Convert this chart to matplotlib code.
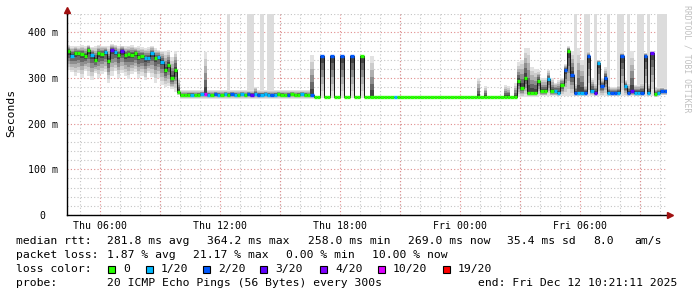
import matplotlib
matplotlib.use("Agg")
import matplotlib.pyplot as plt
import matplotlib.dates as mdates
from matplotlib.ticker import MultipleLocator, FuncFormatter
from matplotlib.patches import Rectangle
from datetime import datetime, timedelta
import numpy as np

plt.rcParams['font.family'] = ['DejaVu Sans Mono']

# ---------------- data (10-minute steps, 30 hours) ----------------
start = datetime(2025, 12, 11, 4, 22)
step_minutes = 10

# median rtt in ms
med = [358, 349, 354, 355, 352, 348, 361, 350, 339, 354, 352, 357, 338, 361, 357, 350, 359, 350, 352, 350,
       354, 346, 348, 343, 343, 354, 343, 346, 336, 318, 329, 300, 318, 270,
       262, 262, 263, 263, 262, 263, 264, 265, 263, 262, 264, 263, 262, 264, 263, 264, 263, 262, 264, 262,
       264, 263, 264, 263, 263, 264, 263, 262, 263, 264, 263, 262, 263, 264, 262, 263, 264, 263, 262, 262,
       258, 258, 347, 258, 258, 347, 258, 258, 347, 258, 258, 347, 258, 258, 347, 258, 258, 258, 258, 258,
       258, 258, 258, 258, 258, 258, 258, 258, 258, 258, 258, 258, 258, 258, 258, 258, 258, 258, 258, 258,
       258, 258, 258, 258, 258, 258, 258, 258, 258, 258, 258, 258, 258, 258, 258, 258, 258, 258, 258, 258,
       258,
       293, 278, 300, 268, 268, 268, 293, 271, 271, 297, 271, 271, 268, 285, 318,
       360, 307, 268, 268, 268, 268, 348, 272, 268, 333, 282, 300, 268, 268, 268, 268, 348, 282, 268, 271,
       268, 268, 268, 349, 268, 355, 264, 268, 271, 271]

# lost pings out of 20
loss = [0, 1, 0, 0, 0, 0, 0, 1, 0, 0, 0, 1, 0, 3, 1, 0, 3, 0, 0, 0,
        0, 0, 0, 1, 1, 1, 0, 1, 1, 0, 0, 0, 0, 0,
        0, 0, 0, 1, 0, 0, 1, 10, 1, 0, 2, 1, 0, 1, 0, 2, 1, 0, 1, 0,
        2, 3, 1, 2, 1, 1, 1, 2, 1, 0, 0, 0, 2, 0, 0, 0, 1, 0, 0, 2,
        0, 0, 2, 0, 0, 2, 0, 0, 2, 0, 0, 2, 0, 0, 0, 0, 0, 0, 0, 0,
        0, 0, 0, 0, 1, 0, 0, 0, 0, 0, 0, 0, 0, 0, 0, 0, 0, 0, 0, 0,
        0, 0, 0, 0, 0, 0, 0, 0, 0, 0, 0, 0, 0, 0, 0, 0, 0, 0, 0, 0,
        0,
        0, 0, 0, 0, 0, 0, 0, 0, 0, 1, 0, 1, 1, 0, 2,
        0, 2, 2, 1, 1, 2, 2, 1, 3, 1, 2, 2, 1, 2, 2, 1, 2, 1, 2, 3,
        1, 1, 2, 2, 1, 3, 0, 1, 2, 2]

# smoke: lowest and highest ping of each step
lo = [318, 312, 305, 310, 300, 315, 305, 295, 310, 300, 308, 312, 290, 305, 315, 300, 310, 305, 298, 308,
      312, 300, 305, 295, 310, 302, 290, 300, 285, 280, 282, 275, 270, 262,
      255, 255, 255, 255, 255, 255, 255, 255, 255, 255, 255, 255, 255, 255, 255, 255, 255, 255, 255, 255,
      255, 255, 255, 255, 255, 255, 255, 255, 255, 255, 255, 255, 255, 255, 255, 255, 255, 255, 255, 255,
      257, 257, 257, 257, 257, 257, 257, 257, 257, 257, 257, 257, 257, 257, 257, 257, 257, 257, 257, 257,
      257, 257, 257, 257, 257, 257, 257, 257, 257, 257, 257, 257, 257, 257, 257, 257, 257, 257, 257, 257,
      257, 257, 257, 257, 257, 257, 257, 257, 257, 257, 257, 257, 257, 257, 257, 257, 257, 257, 257, 257,
      257,
      258, 258, 258, 259, 259, 259, 260, 260, 260, 260, 260, 260, 260, 260, 260,
      260, 260, 260, 260, 260, 260, 260, 260, 260, 260, 260, 260, 260, 260, 260, 260, 260, 260, 260, 260,
      260, 260, 260, 260, 260, 260, 258, 260, 262, 262]

hi = [372, 370, 371, 369, 372, 370, 373, 368, 370, 372, 371, 370, 369, 374, 372, 370, 371, 369, 370, 372,
      368, 370, 367, 366, 368, 370, 365, 362, 360, 358, 362, 345, 360, 300,
      273, 273, 273, 273, 273, 273, 273, 357, 273, 273, 273, 273, 273, 273, 273, 273, 273, 273, 273, 273,
      273, 273, 281, 273, 273, 273, 273, 273, 273, 273, 273, 273, 273, 273, 273, 273, 273, 273, 273, 350,
      260, 260, 350, 260, 260, 350, 260, 260, 350, 260, 260, 350, 260, 260, 350, 260, 260, 347, 260, 260,
      260, 260, 260, 260, 260, 260, 260, 260, 260, 260, 260, 260, 260, 260, 260, 260, 260, 260, 260, 260,
      260, 260, 260, 260, 260, 260, 260, 260, 260, 300, 260, 283, 260, 260, 260, 260, 260, 285, 282, 260,
      288,
      334, 340, 366, 366, 325, 320, 318, 300, 300, 318, 300, 290, 295, 300, 330,
      370, 360, 290, 366, 340, 285, 358, 300, 290, 340, 300, 323, 285, 280, 280, 285, 355, 295, 290, 358,
      285, 285, 290, 355, 290, 358, 280, 280, 280, 278]

# steps where some pings went beyond the top of the graph
top_steps = [48, 54, 55, 58, 60, 61, 152, 155, 156, 158, 162, 165, 166, 168, 171, 172, 174, 177, 178, 179]

loss_levels = [0, 1, 2, 3, 4, 10, 19]
loss_labels = ["0", "1/20", "2/20", "3/20", "4/20", "10/20", "19/20"]
loss_colors = ["#26ff00", "#00b8ff", "#0059ff", "#5e00ff", "#7e00ff", "#dd00ff", "#ff0000"]

stats_rtt = ["281.8 ms avg", "364.2 ms max", "258.0 ms min", "269.0 ms now", "35.4 ms sd", "8.0", "am/s"]
stats_loss = ["1.87 % avg", "21.17 % max", "0.00 % min", "10.00 % now"]
probe_text = "20 ICMP Echo Pings (56 Bytes) every 300s"
end_text = "end: Fri Dec 12 10:21:11 2025"

YMAX = 440

# ---------------- figure ----------------
W, H = 697, 297
fig = plt.figure(figsize=(W / 100, H / 100), dpi=100)
fig.patch.set_facecolor("white")
ax = fig.add_axes([67 / W, 1 - 215 / H, 600 / W, (215 - 14) / H])
ax.set_facecolor("white")

n = len(med)
edges = [start + timedelta(minutes=step_minutes * i) for i in range(n + 1)]
xe = mdates.date2num(edges)
med_a = np.array(med, float)
lo_a = np.array(lo, float)
hi_a = np.array(hi, float)

# beyond-range light bars
for i in top_steps:
    ax.fill_between([xe[i], xe[i + 1]], [med[i]] * 2, [YMAX] * 2, color="#dcdcdc", lw=0, zorder=2)

# smoke (graded)
shades = ["#e2e2e2", "#cccccc", "#b0b0b0", "#8e8e8e", "#686868", "#444444"]
N = len(shades)
for k, c in enumerate(shades):
    f = 1 - k / N
    lower = med_a - (med_a - lo_a) * f
    upper = med_a + (hi_a - med_a) * f
    ax.fill_between(xe, np.append(lower, lower[-1]), np.append(upper, upper[-1]),
                    step="post", color=c, lw=0, zorder=3)

# median line
ax.step(xe, np.append(med_a, med_a[-1]), where="post", color="#151515", lw=0.7, zorder=4)
cmap = dict(zip(loss_levels, loss_colors))
ax.hlines(med_a, xe[:-1], xe[1:], colors=[cmap[l] for l in loss], lw=2.4, zorder=5)

# axes setup
ax.set_xlim(xe[0], xe[-1])
ax.set_ylim(0, YMAX)
ax.set_axisbelow(True)

ax.xaxis.set_major_locator(mdates.HourLocator(byhour=[0, 6, 12, 18]))
ax.xaxis.set_major_formatter(mdates.DateFormatter("%a %H:%M"))
ax.xaxis.set_minor_locator(mdates.HourLocator())
ax.yaxis.set_major_locator(MultipleLocator(100))
ax.yaxis.set_minor_locator(MultipleLocator(20))
ax.yaxis.set_major_formatter(FuncFormatter(lambda v, p: "0  " if v == 0 else f"{int(v)} m"))

dot = (0, (1, 2))
ax.grid(which="minor", axis="both", color="#c4c4c4", ls=dot, lw=0.8, zorder=0)
ax.grid(which="major", axis="y", color="#e08c8c", ls=dot, lw=0.8, zorder=1)
ax.grid(which="major", axis="x", visible=False)
red_hours = mdates.HourLocator(byhour=range(0, 24, 3)).tick_values(edges[0], edges[-1])
for xv in red_hours:
    if xe[0] < xv < xe[-1]:
        ax.axvline(xv, color="#e08c8c", ls=dot, lw=0.8, zorder=1)

ax.tick_params(axis="x", which="both", length=0, pad=4, labelsize=7.1)
ax.tick_params(axis="y", which="both", length=0, pad=6.5, labelsize=7.1)

for s in ["top", "right"]:
    ax.spines[s].set_visible(False)
for s in ["left", "bottom"]:
    ax.spines[s].set_color("black")
    ax.spines[s].set_linewidth(1.0)
    ax.spines[s].set_zorder(6)

# axis arrows
ax.plot([0, 0], [1, 1.02], transform=ax.transAxes, color="black", lw=1, clip_on=False, zorder=6)
ax.plot([0], [1.02], marker="^", ms=4, color="#a01010", transform=ax.transAxes, clip_on=False, zorder=7)
ax.plot([1, 1.004], [0, 0], transform=ax.transAxes, color="black", lw=1, clip_on=False, zorder=6)
ax.plot([1.005], [0], marker=">", ms=4, color="#a01010", transform=ax.transAxes, clip_on=False, zorder=7)


def fx(x):
    return x / W


def fy(y):
    return 1 - y / H


FS = 8.2
fig.text(fx(11), fy(113), "Seconds", rotation=90, ha="center", va="center", size=FS)
fig.text(fx(687), fy(59), "RRDTOOL / TOBI OETIKER", rotation=270, ha="center", va="center",
         size=5.9, color="#c0c0c0")

# legend rows
rows_y = [241, 255, 269, 283]
fig.text(fx(16), fy(rows_y[0]), "median rtt:", ha="left", va="center", size=FS)
for s, x in zip(stats_rtt, [107, 207, 308, 408, 507, 593, 634]):
    fig.text(fx(x), fy(rows_y[0]), s, ha="left", va="center", size=FS)

fig.text(fx(16), fy(rows_y[1]), "packet loss:", ha="left", va="center", size=FS)
for s, x in zip(stats_loss, [107, 193, 286, 372]):
    fig.text(fx(x), fy(rows_y[1]), s, ha="left", va="center", size=FS)

fig.text(fx(16), fy(rows_y[2]), "loss color:", ha="left", va="center", size=FS)
box_x = [108, 146, 203, 260, 320, 378, 443]
for bx, lab, col in zip(box_x, loss_labels, loss_colors):
    fig.patches.append(Rectangle((fx(bx), fy(rows_y[2] + 3.5)), 7 / W, 7 / H, transform=fig.transFigure,
                                 facecolor=col, edgecolor="black", lw=0.8))
    fig.text(fx(bx + 15), fy(rows_y[2]), lab, ha="left", va="center", size=FS)

fig.text(fx(16), fy(rows_y[3]), "probe:", ha="left", va="center", size=FS)
fig.text(fx(107), fy(rows_y[3]), probe_text, ha="left", va="center", size=FS)
fig.text(fx(478), fy(rows_y[3]), end_text, ha="left", va="center", size=FS)

fig.savefig("out.png", dpi=100, facecolor="white")
